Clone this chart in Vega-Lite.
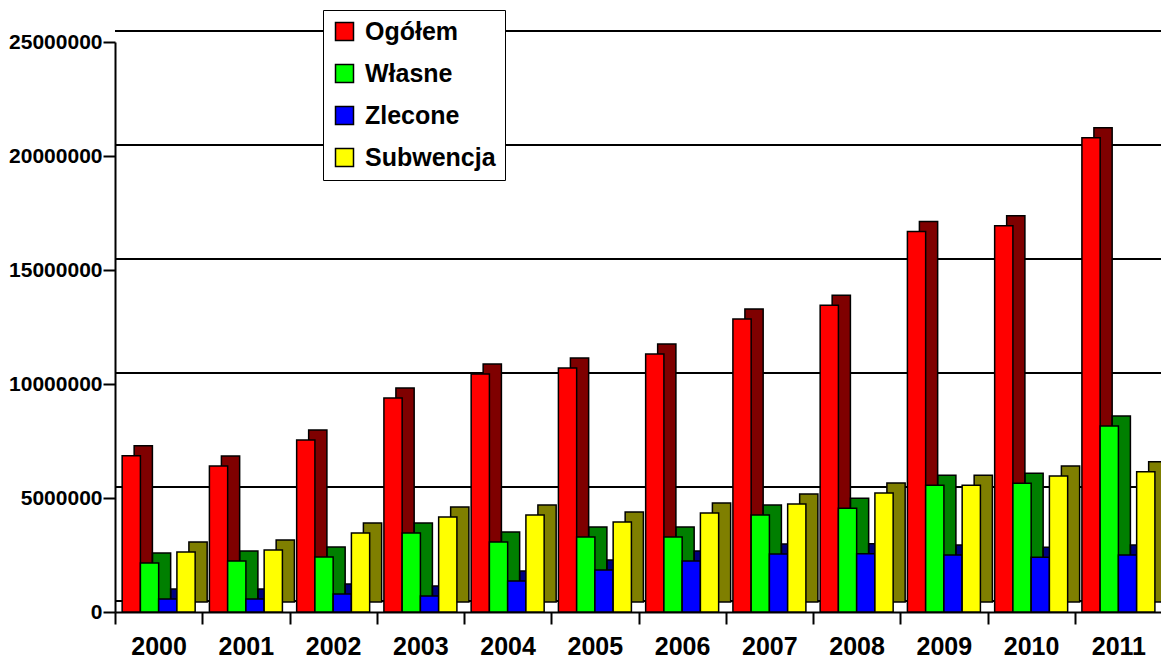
{
  "$schema": "https://vega.github.io/schema/vega-lite/v6.json",
  "autosize": {"type": "none"},
  "padding": {"left": 115, "top": 42, "right": 0, "bottom": 47},
  "width": 1047,
  "height": 570,
  "background": "white",
  "config": {
    "view": {"stroke": null},
    "font": "Liberation Sans",
    "axis": {
      "labelFont": "Liberation Sans",
      "labelFontWeight": "bold",
      "labelColor": "black",
      "domainColor": "black",
      "domainWidth": 2,
      "tickColor": "black",
      "tickWidth": 2,
      "grid": false,
      "title": null
    },
    "legend": {
      "labelFont": "Liberation Sans",
      "labelFontWeight": "bold",
      "labelColor": "black"
    }
  },
  "data": {
    "values": [
      {"year": "2000", "series": "Ogółem", "value": 6850000},
      {"year": "2000", "series": "Własne", "value": 2150000},
      {"year": "2000", "series": "Zlecone", "value": 570000},
      {"year": "2000", "series": "Subwencja", "value": 2630000},
      {"year": "2001", "series": "Ogółem", "value": 6400000},
      {"year": "2001", "series": "Własne", "value": 2240000},
      {"year": "2001", "series": "Zlecone", "value": 570000},
      {"year": "2001", "series": "Subwencja", "value": 2720000},
      {"year": "2002", "series": "Ogółem", "value": 7540000},
      {"year": "2002", "series": "Własne", "value": 2410000},
      {"year": "2002", "series": "Zlecone", "value": 790000},
      {"year": "2002", "series": "Subwencja", "value": 3460000},
      {"year": "2003", "series": "Ogółem", "value": 9390000},
      {"year": "2003", "series": "Własne", "value": 3460000},
      {"year": "2003", "series": "Zlecone", "value": 700000},
      {"year": "2003", "series": "Subwencja", "value": 4170000},
      {"year": "2004", "series": "Ogółem", "value": 10440000},
      {"year": "2004", "series": "Własne", "value": 3070000},
      {"year": "2004", "series": "Zlecone", "value": 1360000},
      {"year": "2004", "series": "Subwencja", "value": 4250000},
      {"year": "2005", "series": "Ogółem", "value": 10700000},
      {"year": "2005", "series": "Własne", "value": 3290000},
      {"year": "2005", "series": "Zlecone", "value": 1840000},
      {"year": "2005", "series": "Subwencja", "value": 3950000},
      {"year": "2006", "series": "Ogółem", "value": 11320000},
      {"year": "2006", "series": "Własne", "value": 3290000},
      {"year": "2006", "series": "Zlecone", "value": 2240000},
      {"year": "2006", "series": "Subwencja", "value": 4340000},
      {"year": "2007", "series": "Ogółem", "value": 12850000},
      {"year": "2007", "series": "Własne", "value": 4250000},
      {"year": "2007", "series": "Zlecone", "value": 2540000},
      {"year": "2007", "series": "Subwencja", "value": 4740000},
      {"year": "2008", "series": "Ogółem", "value": 13450000},
      {"year": "2008", "series": "Własne", "value": 4550000},
      {"year": "2008", "series": "Zlecone", "value": 2550000},
      {"year": "2008", "series": "Subwencja", "value": 5220000},
      {"year": "2009", "series": "Ogółem", "value": 16690000},
      {"year": "2009", "series": "Własne", "value": 5560000},
      {"year": "2009", "series": "Zlecone", "value": 2500000},
      {"year": "2009", "series": "Subwencja", "value": 5560000},
      {"year": "2010", "series": "Ogółem", "value": 16940000},
      {"year": "2010", "series": "Własne", "value": 5650000},
      {"year": "2010", "series": "Zlecone", "value": 2400000},
      {"year": "2010", "series": "Subwencja", "value": 5960000},
      {"year": "2011", "series": "Ogółem", "value": 20800000},
      {"year": "2011", "series": "Własne", "value": 8160000},
      {"year": "2011", "series": "Zlecone", "value": 2500000},
      {"year": "2011", "series": "Subwencja", "value": 6150000}
    ]
  },
  "layer": [
    {
      "data": {"values": [{"level": 0}, {"level": 5000000}, {"level": 10000000}, {"level": 15000000}, {"level": 20000000}, {"level": 25000000}]},
      "mark": {"type": "rule", "stroke": "black", "strokeWidth": 2, "yOffset": -11},
      "encoding": {
        "y": {"field": "level", "type": "quantitative", "scale": {"domain": [0, 25000000], "nice": false}}
      }
    },
    {
      "mark": {"type": "bar", "strokeWidth": 0, "yOffset": -10, "y2Offset": -10},
      "encoding": {
        "x": {"field": "year", "type": "nominal", "scale": {"paddingInner": 0.164, "paddingOuter": 0.082}},
        "xOffset": {"field": "series", "type": "nominal", "sort": ["Ogółem", "Własne", "Zlecone", "Subwencja"], "scale": {"range": [12, 85], "paddingInner": 0, "paddingOuter": 0}},
        "y": {"field": "value", "type": "quantitative", "scale": {"domain": [0, 25000000], "nice": false}},
        "color": {"field": "series", "type": "nominal", "scale": {"domain": ["Ogółem", "Własne", "Zlecone", "Subwencja"], "range": ["#FF0000", "#00FF00", "#0000FF", "#FFFF00"]}}
      }
    },
    {
      "mark": {"type": "bar", "fill": "black", "fillOpacity": 0.5, "stroke": "black", "strokeWidth": 1.5, "yOffset": -10, "y2Offset": -10},
      "encoding": {
        "x": {"field": "year", "type": "nominal", "scale": {"paddingInner": 0.164, "paddingOuter": 0.082}},
        "xOffset": {"field": "series", "type": "nominal", "sort": ["Ogółem", "Własne", "Zlecone", "Subwencja"], "scale": {"range": [12, 85], "paddingInner": 0, "paddingOuter": 0}},
        "y": {"field": "value", "type": "quantitative", "scale": {"domain": [0, 25000000], "nice": false}}
      }
    },
    {
      "mark": {"type": "bar", "stroke": "black", "strokeWidth": 1.5},
      "encoding": {
        "x": {"field": "year", "type": "nominal", "scale": {"paddingInner": 0.164, "paddingOuter": 0.082},
          "axis": {"labelAngle": 0, "labelAlign": "center", "labelBaseline": "top", "labelFontSize": 25, "labelPadding": 10, "ticks": true, "tickOffset": -43.6, "labelOffset": 43.6, "tickSize": 12}},
        "xOffset": {"field": "series", "type": "nominal", "sort": ["Ogółem", "Własne", "Zlecone", "Subwencja"], "scale": {"range": [0, 73], "paddingInner": 0, "paddingOuter": 0}},
        "y": {"field": "value", "type": "quantitative", "scale": {"domain": [0, 25000000], "nice": false},
          "axis": {"values": [0, 5000000, 10000000, 15000000, 20000000, 25000000], "format": "d", "labelFontSize": 21, "labelPadding": 1, "tickSize": 12}},
        "color": {"field": "series", "type": "nominal",
          "legend": {"title": null, "orient": "none", "legendX": 208, "legendY": -32, "symbolType": "square", "symbolSize": 324, "symbolStrokeColor": "black", "symbolStrokeWidth": 1.5, "symbolOpacity": 1, "labelFontSize": 25, "labelOffset": 8, "rowPadding": 16, "padding": 9, "strokeColor": "black", "fillColor": "white"}}
      }
    }
  ],
  "resolve": {"scale": {"xOffset": "independent"}}
}
